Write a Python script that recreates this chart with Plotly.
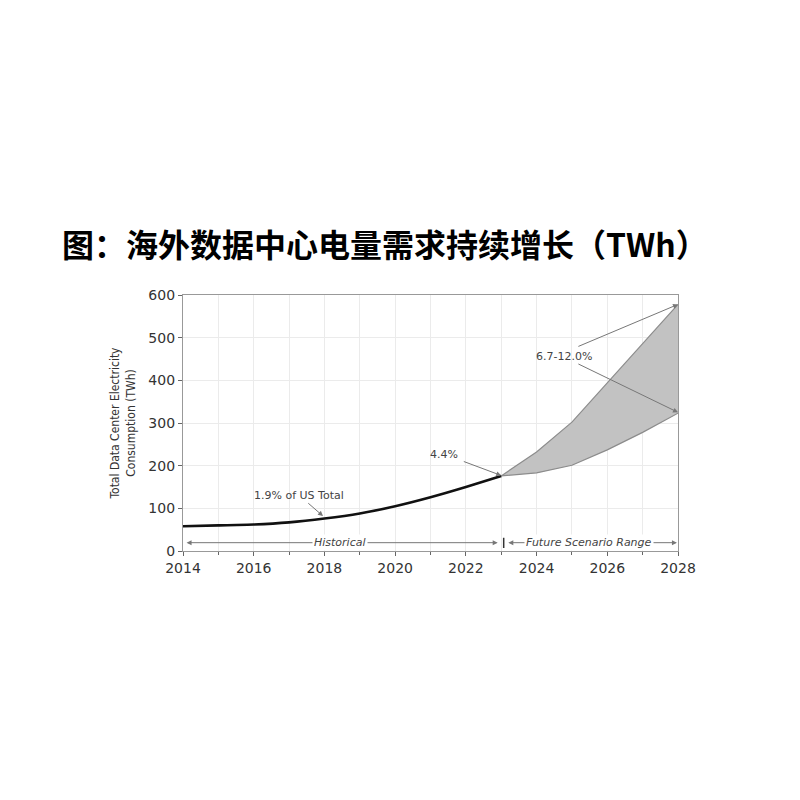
import plotly.graph_objects as go

hist_years = [2014, 2015, 2016, 2017, 2018, 2019, 2020, 2021, 2022, 2023]
hist_values = [58, 60, 62, 67, 76, 88, 105, 126, 150, 176]

future_years = [2023, 2024, 2025, 2026, 2027, 2028]
future_low = [176, 183, 201, 237, 278, 323]
future_high = [176, 232, 302, 394, 487, 578]

title_text = "图：海外数据中心电量需求持续增长（TWh）"
y_title = "Total Data Center Electricity<br>Consumption (TWh)"
x_ticks = [2014, 2016, 2018, 2020, 2022, 2024, 2026, 2028]
y_ticks = [0, 100, 200, 300, 400, 500, 600]

fig = go.Figure()
fig.add_trace(go.Scatter(x=future_years, y=future_low, mode="lines",
                         line=dict(color="#8c8c8c", width=1.2), showlegend=False))
fig.add_trace(go.Scatter(x=future_years, y=future_high, mode="lines", fill="tonexty",
                         fillcolor="#c2c2c2",
                         line=dict(color="#8c8c8c", width=1.2), showlegend=False))
fig.add_trace(go.Scatter(x=hist_years, y=hist_values, mode="lines",
                         line=dict(color="#111111", width=2.6, shape="spline", smoothing=0.6),
                         showlegend=False))

ann_font = dict(family="DejaVu Sans", size=11, color="#444444")
arrow_col = "#777777"

def arrow(x0, y0, x1, y1):
    fig.add_annotation(x=x1, y=y1, ax=x0, ay=y0, xref="x", yref="y", axref="x", ayref="y",
                       text="", showarrow=True, arrowhead=2, arrowsize=1, arrowwidth=1,
                       arrowcolor=arrow_col)

# 1.9% of US Total
arrow(2017.5, 115, 2017.96, 82)
fig.add_annotation(x=2017.28, y=131, text="1.9% of US Total", showarrow=False, font=ann_font)
# 4.4%
arrow(2021.9, 211, 2023.0, 177)
fig.add_annotation(x=2021.38, y=227, text="4.4%", showarrow=False, font=ann_font)
# 6.7-12.0%
arrow(2025.14, 478, 2028.0, 578)
arrow(2025.14, 440, 2028.0, 325)
fig.add_annotation(x=2024.77, y=457, text="6.7-12.0%", showarrow=False, font=ann_font)

# Historical range
arrow(2018.4, 19.5, 2014.1, 19.5)
arrow(2018.4, 19.5, 2022.9, 19.5)
fig.add_annotation(x=2018.45, y=19.5, text="<i>Historical</i>", showarrow=False,
                   font=ann_font, bgcolor="white", borderpad=1)
# divider
fig.add_shape(type="line", x0=2023.07, x1=2023.07, y0=7, y1=31, xref="x", yref="y",
              line=dict(color="#333333", width=1.5))
# Future range
arrow(2025.5, 19.5, 2023.2, 19.5)
arrow(2025.5, 19.5, 2027.97, 19.5)
fig.add_annotation(x=2025.48, y=19.5, text="<i>Future Scenario Range</i>", showarrow=False,
                   font=ann_font, bgcolor="white", borderpad=1)

fig.update_layout(
    width=800, height=800,
    margin=dict(l=175, r=130, t=287, b=257),
    paper_bgcolor="white", plot_bgcolor="white",
    title=dict(text="<b>" + title_text + "</b>", x=54 / 800, xanchor="left",
               y=1 - 238 / 800, yanchor="middle", yref="container", xref="container",
               font=dict(family="Noto Sans CJK SC", size=32, color="#000000")),
    xaxis=dict(range=[2014, 2028], tickvals=x_ticks, ticktext=[str(v) for v in x_ticks],
               showgrid=True, gridcolor="#ebebeb", gridwidth=1,
               minor=dict(dtick=1, tick0=2014, showgrid=True, gridcolor="#ebebeb",
                          ticks="outside", ticklen=3, tickcolor="#666666"),
               ticks="outside", ticklen=4, tickcolor="#666666",
               showline=True, linecolor="#999999", linewidth=1.2, mirror=True,
               tickfont=dict(family="DejaVu Sans", size=14, color="#333333"),
               zeroline=False),
    yaxis=dict(range=[0, 600], tickvals=y_ticks, ticktext=[str(v) for v in y_ticks],
               showgrid=True, gridcolor="#ebebeb", gridwidth=1,
               ticks="outside", ticklen=4, tickcolor="#666666",
               showline=True, linecolor="#999999", linewidth=1.2, mirror=True,
               tickfont=dict(family="DejaVu Sans", size=14, color="#333333"),
               title=dict(text=y_title, standoff=10,
                          font=dict(family="Liberation Sans Narrow, DejaVu Sans Condensed, sans-serif",
                                    size=12, color="#333333")),
               zeroline=False),
)

fig.write_html("out.html")
